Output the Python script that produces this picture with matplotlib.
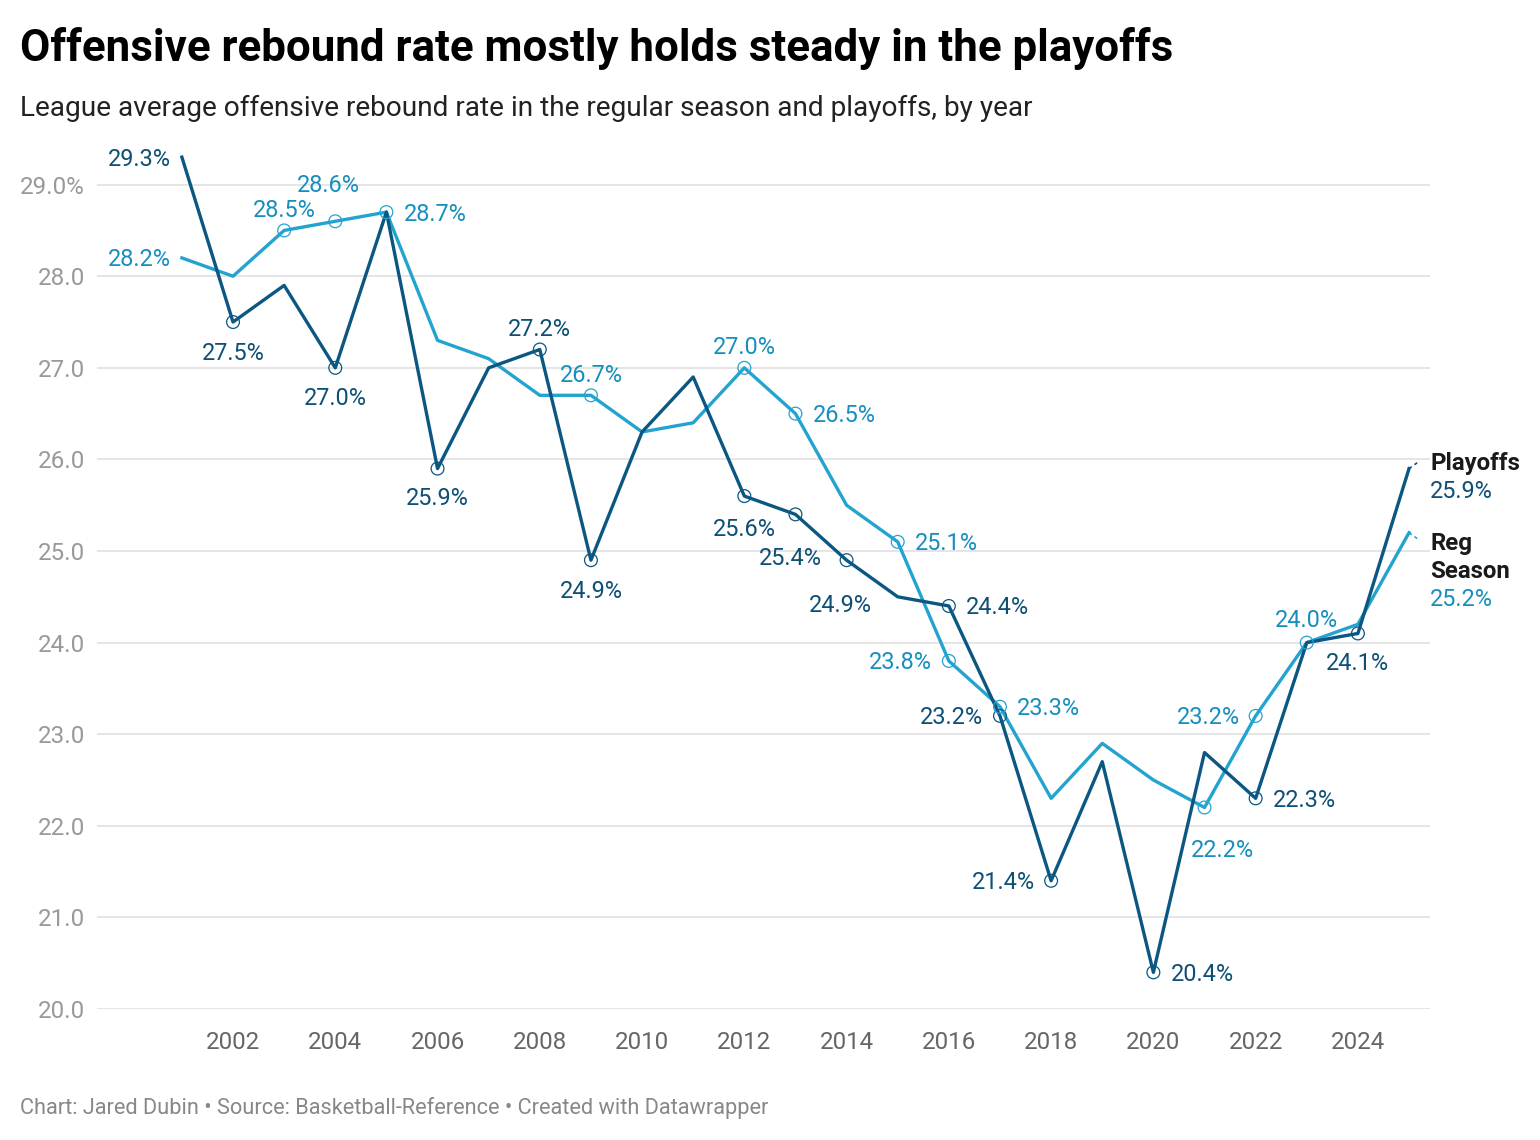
import matplotlib.pyplot as plt
import numpy as np

plt.rcParams['font.family'] = ['Roboto', 'DejaVu Sans']

years = list(range(2001, 2026))
playoffs = [29.3, 27.5, 27.9, 27.0, 28.7, 25.9, 27.0, 27.2, 24.9, 26.3, 26.9, 25.6, 25.4,
            24.9, 24.5, 24.4, 23.2, 21.4, 22.7, 20.4, 22.8, 22.3, 24.0, 24.1, 25.9]
reg_season = [28.2, 28.0, 28.5, 28.6, 28.7, 27.3, 27.1, 26.7, 26.7, 26.3, 26.4, 27.0, 26.5,
              25.5, 25.1, 23.8, 23.3, 22.3, 22.9, 22.5, 22.2, 23.2, 24.0, 24.2, 25.2]

# years that carry a value label
playoff_label_years = [2001, 2002, 2004, 2006, 2008, 2009, 2012, 2013, 2014, 2016, 2017,
                       2018, 2020, 2022, 2024]
reg_label_years = [2001, 2003, 2004, 2005, 2009, 2012, 2013, 2015, 2016, 2017, 2021,
                   2022, 2023]

yticks = [20, 21, 22, 23, 24, 25, 26, 27, 28, 29]
ytick_labels = ['20.0', '21.0', '22.0', '23.0', '24.0', '25.0', '26.0', '27.0', '28.0', '29.0%']
xticks = list(range(2002, 2025, 2))

# label placement: (dx px, dy px, ha) relative to the point
PO_POS = {2001: (-11, 0, 'right'), 2002: (0, -29, 'center'), 2004: (0, -29, 'center'),
          2006: (0, -28, 'center'), 2008: (0, 22, 'center'), 2009: (0, -29, 'center'),
          2012: (0, -31, 'center'), 2013: (-5, -42, 'center'), 2014: (-6, -43, 'center'),
          2016: (17, 0, 'left'), 2017: (-17, 0, 'right'), 2018: (-16, 0, 'right'),
          2020: (17, 0, 'left'), 2022: (17, 0, 'left'), 2024: (0, -28, 'center')}
RS_POS = {2001: (-11, 0, 'right'), 2003: (0, 22, 'center'), 2004: (-7, 38, 'center'),
          2005: (17, 0, 'left'), 2009: (0, 22, 'center'), 2012: (0, 22, 'center'),
          2013: (17, 0, 'left'), 2015: (17, 0, 'left'), 2016: (-17, 0, 'right'),
          2017: (17, 0, 'left'), 2021: (18, -41, 'center'), 2022: (-16, 0, 'right'),
          2023: (0, 24, 'center')}

DARK = '#0b5782'
LIGHT = '#22a3d0'
DARK_TXT = '#0d4f75'
LIGHT_TXT = '#168fbd'
LBL = 16.9

fig = plt.figure(figsize=(15.4, 11.4), dpi=100)
ax = fig.add_axes([97/1540, (1140-1009)/1140, (1430-97)/1540, (1009-148)/1140])

ax.set_xlim(1999.34, 2025.41)
ax.set_ylim(20, 29.4)
for s in ax.spines.values():
    s.set_visible(False)
ax.set_yticks(yticks)
ax.set_yticklabels(ytick_labels)
ax.set_xticks(xticks)
ax.tick_params(axis='both', length=0, labelsize=17.4, labelcolor='#999999')
ax.tick_params(axis='y', pad=8.6)
ax.tick_params(axis='x', pad=16)
for lab in ax.get_xticklabels():
    lab.set_color('#666666')
ax.grid(axis='y', color='#e3e3e3', linewidth=1.3)
ax.set_axisbelow(True)

ax.plot(years, reg_season, color=LIGHT, linewidth=2.4, zorder=3, clip_on=False)
ax.plot(years, playoffs, color=DARK, linewidth=2.4, zorder=4, clip_on=False)

# dotted connectors to the end labels
ax.plot([2025, 2025.2], [playoffs[-1], playoffs[-1] + 0.08], color=DARK, lw=1.2,
        ls=(0, (2, 2)), clip_on=False)
ax.plot([2025, 2025.2], [reg_season[-1], reg_season[-1] - 0.08], color=LIGHT, lw=1.2,
        ls=(0, (2, 2)), clip_on=False)


def add_labels(series, label_years, pos, line_color, text_color):
    for yr in label_years:
        v = series[years.index(yr)]
        if yr != 2001:
            ax.scatter([yr], [v], s=85, facecolors='none', edgecolors=line_color,
                       linewidths=0.9, zorder=6, clip_on=False)
        dx, dy, ha = pos[yr]
        ax.annotate(f'{v:.1f}%', (yr, v), xytext=(dx * 0.72, (dy - 2) * 0.72),
                    textcoords='offset points', ha=ha, va='center', fontsize=LBL,
                    color=text_color, zorder=7, annotation_clip=False)


add_labels(playoffs, playoff_label_years, PO_POS, DARK, DARK_TXT)
add_labels(reg_season, reg_label_years, RS_POS, LIGHT, LIGHT_TXT)

fig.text(1430/1540, 1 - 464/1140, 'Playoffs', fontsize=17.3, fontweight='bold',
         color='#1a1a1a', ha='left', va='center')
fig.text(1430/1540, 1 - 492/1140, f'{playoffs[-1]:.1f}%', fontsize=LBL,
         color=DARK_TXT, ha='left', va='center')
fig.text(1430/1540, 1 - 544/1140, 'Reg', fontsize=17.3, fontweight='bold',
         color='#1a1a1a', ha='left', va='center')
fig.text(1430/1540, 1 - 572/1140, 'Season', fontsize=17.3, fontweight='bold',
         color='#1a1a1a', ha='left', va='center')
fig.text(1430/1540, 1 - 600/1140, f'{reg_season[-1]:.1f}%', fontsize=LBL,
         color=LIGHT_TXT, ha='left', va='center')

fig.text(20/1540, 1 - 48/1140, 'Offensive rebound rate mostly holds steady in the playoffs',
         fontsize=31.6, fontweight='bold', color='#000000', ha='left', va='center')
fig.text(20/1540, 1 - 108/1140,
         'League average offensive rebound rate in the regular season and playoffs, by year',
         fontsize=20.2, color='#222222', ha='left', va='center')
fig.text(20/1540, 1 - 1108/1140,
         'Chart: Jared Dubin \u2022 Source: Basketball-Reference \u2022 Created with Datawrapper',
         fontsize=15.7, color='#888888', ha='left', va='center')

fig.savefig('out.png', dpi=100)
